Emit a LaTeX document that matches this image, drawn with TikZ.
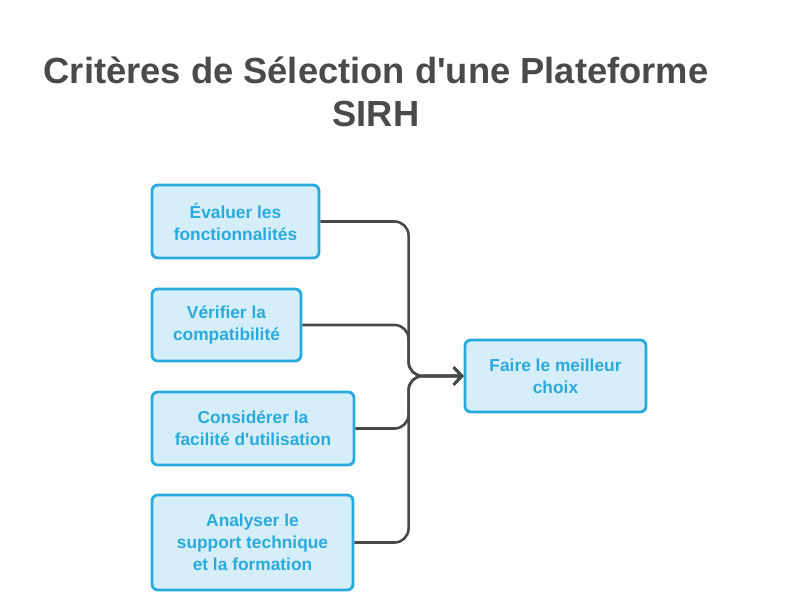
\documentclass[tikz,border=0pt]{standalone}
\usepackage{fontspec}
\setmainfont{Liberation Sans}
\usepackage{xcolor}
\usetikzlibrary{arrows.meta,positioning,calc}
\definecolor{critblue}{RGB}{41,170,222}
\definecolor{critfill}{RGB}{214,238,249}
\definecolor{titlegray}{RGB}{74,74,74}
\definecolor{linkgray}{RGB}{72,72,72}

\begin{document}
\begin{tikzpicture}[
    x=0.03cm, y=-0.03cm,
    every node/.style={align=center},
    critbox/.style={draw=critblue, fill=critfill, line width=2.4pt, rounded corners=5pt,
        font=\fontsize{14.8}{18.8}\selectfont\bfseries, text=critblue, inner sep=0pt},
    link/.style={draw=linkgray, line width=2.2pt, rounded corners=12pt, -{Straight Barb[length=7pt,width=15pt]}}
]
\useasboundingbox (0,0) rectangle (799,608);

% title
\node[font=\fontsize{31}{37}\selectfont\bfseries, text=titlegray] (title) at (376,92)
    {Critères de Sélection d\textquotesingle une Plateforme\\SIRH};

% criteria
\node[critbox, minimum width=167*0.03cm, minimum height=73*0.03cm] (eval) at (235.5,221.5)
    {Évaluer les\\fonctionnalités};
\node[critbox, minimum width=149*0.03cm, minimum height=72*0.03cm] (compat) at (226.5,325)
    {Vérifier la\\compatibilité};
\node[critbox, minimum width=202*0.03cm, minimum height=73*0.03cm] (usage) at (253,428.5)
    {Considérer la\\facilité d\textquotesingle utilisation};
\node[critbox, minimum width=201*0.03cm, minimum height=95*0.03cm] (support) at (252.5,542.5)
    {Analyser le\\support technique\\et la formation};

% result
\node[critbox, minimum width=181*0.03cm, minimum height=72*0.03cm] (choice) at (555.5,376)
    {Faire le meilleur\\choix};

% connectors
\coordinate (merge) at ([xshift=-55*0.03cm]choice.west);
\foreach \src in {eval,compat,usage,support}
    \draw[link] (\src.east) -| (merge) -- (choice.west);
\end{tikzpicture}
\end{document}
